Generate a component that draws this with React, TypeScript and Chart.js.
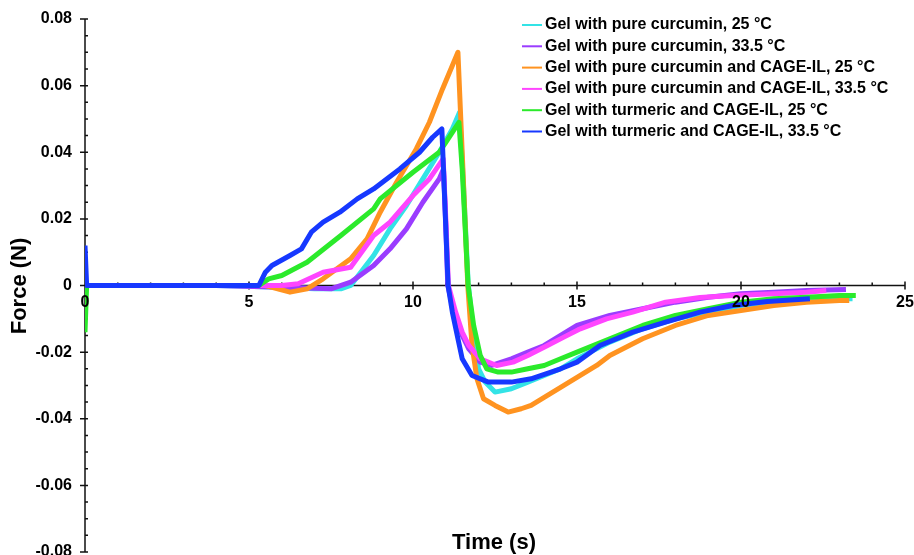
import { useEffect, useRef } from "react";
import { Chart, registerables } from "chart.js";

Chart.register(...registerables);

// ---- Series labels ----
const seriesLabels = [
  "Gel with pure curcumin, 25 °C",
  "Gel with pure curcumin, 33.5 °C",
  "Gel with pure curcumin and CAGE-IL, 25 °C",
  "Gel with pure curcumin and CAGE-IL, 33.5 °C",
  "Gel with turmeric and CAGE-IL, 25 °C",
  "Gel with turmeric and CAGE-IL, 33.5 °C",
];

// ---- Force (N) vs time (s) for each gel ----
const pure25Time = [0, 2, 4, 6, 7, 7.8, 8.1, 8.8, 9.3, 9.8, 10.3, 10.8, 11.2, 11.42, 11.55, 11.68, 11.85, 12.0, 12.2, 12.5, 13, 13.5, 14, 14.5, 15, 16, 17, 18, 19, 20, 21, 22, 23, 23.4];
const pure25Force = [0, 0, 0, -0.0005, -0.001, -0.001, 0, 0.009, 0.017, 0.024, 0.032, 0.04, 0.047, 0.052, 0.028, 0.001, -0.015, -0.025, -0.029, -0.032, -0.031, -0.029, -0.027, -0.025, -0.022, -0.017, -0.013, -0.01, -0.008, -0.006, -0.005, -0.0045, -0.004, -0.004];

const pure33Time = [0, 2, 4, 6, 7.5, 8.1, 8.8, 9.3, 9.8, 10.3, 10.8, 10.93, 11.0, 11.06, 11.2, 11.5, 11.7, 12.05, 12.4, 13, 13.5, 14, 14.5, 15, 16, 17, 18, 19, 20, 21, 22, 23.2];
const pure33Force = [0, 0, 0, -0.0005, -0.001, 0.001, 0.006, 0.011, 0.017, 0.025, 0.032, 0.035, 0.018, 0, -0.006, -0.015, -0.019, -0.023, -0.024, -0.022, -0.02, -0.018, -0.015, -0.012, -0.009, -0.007, -0.005, -0.0035, -0.0025, -0.002, -0.0015, -0.0012];

const pureIl25Time = [0, 2, 4, 5.5, 6.25, 6.77, 7.26, 8.1, 8.6, 9.0, 9.5, 10.1, 10.5, 10.9, 11.37, 11.5, 11.67, 11.8, 11.95, 12.15, 12.5, 12.9, 13.3, 13.6, 14.1, 14.6, 15.1, 15.6, 16, 17, 18, 19, 20, 21, 22, 23, 23.3];
const pureIl25Force = [0, 0, 0, 0, -0.002, -0.001, 0.002, 0.008, 0.014, 0.022, 0.031, 0.041, 0.049, 0.059, 0.07, 0.04, 0, -0.018, -0.028, -0.034, -0.036, -0.038, -0.037, -0.036, -0.033, -0.03, -0.027, -0.024, -0.021, -0.016, -0.012, -0.009, -0.0075, -0.006, -0.005, -0.0045, -0.0045];

const pureIl33Time = [0, 2, 4, 6, 6.5, 7.26, 8.1, 8.8, 9.3, 10.0, 10.5, 10.92, 11.0, 11.08, 11.3, 11.5, 11.7, 12.05, 12.55, 13.05, 13.5, 14.1, 14.6, 15.1, 15.9, 16.7, 17.7, 18.75, 19.75, 21, 22, 22.6];
const pureIl33Force = [0, 0, 0, 0, 0.0005, 0.004, 0.0055, 0.015, 0.019, 0.027, 0.032, 0.038, 0.02, 0, -0.008, -0.014, -0.018, -0.022, -0.024, -0.023, -0.021, -0.018, -0.0155, -0.013, -0.01, -0.008, -0.005, -0.0036, -0.003, -0.0025, -0.002, -0.0015];

const turmeric25Time = [0, 0.05, 2, 4, 5.3, 5.6, 6.0, 6.77, 7.8, 8.8, 9.0, 10.0, 10.8, 11.0, 11.4, 11.5, 11.68, 11.85, 12.05, 12.25, 12.6, 13, 13.5, 14, 14.5, 15, 16, 17, 18, 19, 20, 21, 22, 23, 23.5];
const turmeric25Force = [-0.014, 0, 0, 0, 0, 0.002, 0.003, 0.007, 0.015, 0.023, 0.026, 0.034, 0.04, 0.043, 0.049, 0.035, 0, -0.012, -0.021, -0.025, -0.026, -0.026, -0.025, -0.024, -0.022, -0.02, -0.016, -0.012, -0.009, -0.007, -0.005, -0.004, -0.0035, -0.003, -0.003];

const turmeric33Time = [0, 0.05, 2, 4, 5.3, 5.5, 5.7, 6.25, 6.6, 6.9, 7.26, 7.77, 8.3, 8.8, 9.6, 10.2, 10.6, 10.88, 11.07, 11.2, 11.37, 11.5, 11.8, 12.3, 13.0, 13.6, 14.5, 15, 15.7, 16.7, 17.7, 18.75, 19.75, 20.8, 22.1];
const turmeric33Force = [0.012, 0, 0, 0, 0, 0.004, 0.006, 0.009, 0.011, 0.016, 0.019, 0.022, 0.026, 0.029, 0.035, 0.04, 0.0445, 0.047, 0, -0.008, -0.016, -0.022, -0.027, -0.029, -0.029, -0.028, -0.025, -0.023, -0.018, -0.014, -0.011, -0.008, -0.006, -0.0048, -0.004];

const seriesTimes = [pure25Time, pure33Time, pureIl25Time, pureIl33Time, turmeric25Time, turmeric33Time];
const seriesForces = [pure25Force, pure33Force, pureIl25Force, pureIl33Force, turmeric25Force, turmeric33Force];

// ---- Axis ticks ----
const xTickValues = [0, 5, 10, 15, 20, 25];
const xTickLabels = ["0", "5", "10", "15", "20", "25"];
const yTickValues = [0.08, 0.06, 0.04, 0.02, 0, -0.02, -0.04, -0.06, -0.08];
const yTickLabels = ["0.08", "0.06", "0.04", "0.02", "0", "-0.02", "-0.04", "-0.06", "-0.08"];

// ---- Styles ----
const lineColors = ["#33e3e6", "#9a3cff", "#ff9320", "#ff45ff", "#2bea2b", "#1638ff"];
const drawOrder = [5, 4, 3, 2, 1, 0]; // lower value is painted on top
const FONT = '"Liberation Sans", Arial, Helvetica, sans-serif';

const axesPlugin = {
  id: "forceAxes",
  beforeDatasetsDraw(chart: any) {
    const ctx = chart.ctx;
    const xs = chart.scales.x;
    const ys = chart.scales.y;
    const x0 = xs.getPixelForValue(0);
    const y0 = ys.getPixelForValue(0);
    ctx.save();
    ctx.strokeStyle = "#111";
    ctx.lineWidth = 1.5;
    ctx.beginPath();
    ctx.moveTo(x0, ys.getPixelForValue(0.08));
    ctx.lineTo(x0, ys.getPixelForValue(-0.08));
    ctx.moveTo(xs.getPixelForValue(0), y0);
    ctx.lineTo(xs.getPixelForValue(25), y0);
    // y ticks, minor every 0.005
    for (let k = -16; k <= 16; k++) {
      const py = ys.getPixelForValue(k * 0.005);
      if (k % 4 === 0) {
        ctx.moveTo(x0 - 5, py);
        ctx.lineTo(x0 + 3, py);
      } else {
        ctx.moveTo(x0, py);
        ctx.lineTo(x0 + 3, py);
      }
    }
    // x ticks, minor every 1 s
    for (let t = 0; t <= 25; t++) {
      const px = xs.getPixelForValue(t);
      if (t % 5 === 0) {
        ctx.moveTo(px, y0 - 4);
        ctx.lineTo(px, y0 + 4);
      } else {
        ctx.moveTo(px, y0 - 3);
        ctx.lineTo(px, y0);
      }
    }
    ctx.stroke();
    ctx.restore();
  },
  afterDatasetsDraw(chart: any) {
    const ctx = chart.ctx;
    const xs = chart.scales.x;
    const ys = chart.scales.y;
    const x0 = xs.getPixelForValue(0);
    const y0 = ys.getPixelForValue(0);
    ctx.save();
    ctx.fillStyle = "#000";
    ctx.font = `bold 16px ${FONT}`;
    ctx.textBaseline = "middle";
    ctx.textAlign = "right";
    yTickValues.forEach((v, i) => {
      ctx.fillText(yTickLabels[i], x0 - 13, ys.getPixelForValue(v));
    });
    ctx.textAlign = "center";
    xTickValues.forEach((v, i) => {
      ctx.fillText(xTickLabels[i], xs.getPixelForValue(v), y0 + 17);
    });

    // axis titles
    ctx.font = `bold 22px ${FONT}`;
    ctx.fillText("Time (s)", 494, 543);
    ctx.save();
    ctx.translate(20, 286);
    ctx.rotate(-Math.PI / 2);
    ctx.fillText("Force (N)", 0, 0);
    ctx.restore();

    // legend
    ctx.font = `bold 16px ${FONT}`;
    ctx.textAlign = "left";
    seriesLabels.forEach((label, i) => {
      const ly = 25 + i * 21.3;
      ctx.strokeStyle = lineColors[i];
      ctx.lineWidth = 2;
      ctx.beginPath();
      ctx.moveTo(522, ly);
      ctx.lineTo(542, ly);
      ctx.stroke();
      ctx.fillStyle = "#000";
      ctx.fillText(label, 545, ly);
    });
    ctx.restore();
  },
};

export default function App() {
  const canvasRef = useRef<HTMLCanvasElement | null>(null);

  useEffect(() => {
    if (!canvasRef.current) return;
    const datasets = seriesLabels.map((label, i) => ({
      label,
      data: seriesTimes[i].map((t, j) => ({ x: t, y: seriesForces[i][j] })),
      borderColor: lineColors[i],
      backgroundColor: lineColors[i],
      borderWidth: 5,
      borderJoinStyle: "round" as const,
      pointRadius: 0,
      tension: 0,
      fill: false,
      order: drawOrder[i],
    }));
    const chart = new Chart(canvasRef.current, {
      type: "line",
      data: { datasets },
      options: {
        animation: false,
        responsive: false,
        layout: { padding: { left: 85, right: 9, top: 19, bottom: 3 } },
        scales: {
          x: { type: "linear", min: 0, max: 25, display: false },
          y: { type: "linear", min: -0.08, max: 0.08, display: false },
        },
        plugins: { legend: { display: false }, tooltip: { enabled: false } },
      },
      plugins: [axesPlugin],
    });
    return () => chart.destroy();
  }, []);

  return (
    <div style={{ position: "absolute", left: 0, top: 0, width: 914, height: 555, background: "#fff" }}>
      <canvas ref={canvasRef} width={914} height={555} />
    </div>
  );
}
